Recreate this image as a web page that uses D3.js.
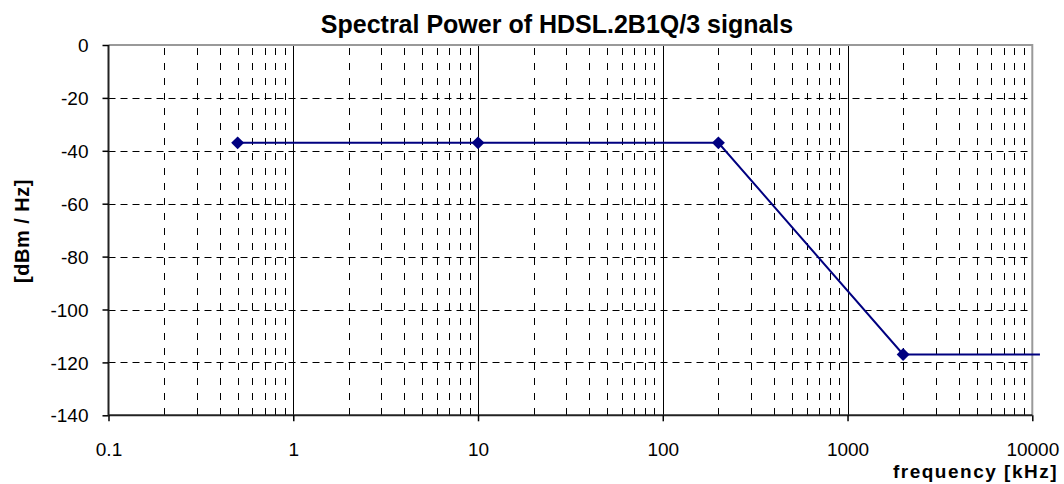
<!DOCTYPE html>
<html>
<head>
<meta charset="utf-8">
<script src="https://cdn.jsdelivr.net/npm/d3@7"></script>
<style>
  body { margin: 0; background: #fff; }
  text { font-family: Arial, "Liberation Sans", sans-serif; }
</style>
</head>
<body>
<svg id="chart"></svg>
<script>
// chart values
var freqKHz = [0.5, 10, 200, 2000, 11000];
var powerDbm = [-37, -37, -37, -117, -117];
var showMarker = [true, true, true, true, false];
var xTickValues = [0.1, 1, 10, 100, 1000, 10000];
var xTickLabels = ['0.1', '1', '10', '100', '1000', '10000'];
var yTickValues = [0, -20, -40, -60, -80, -100, -120, -140];

function drawChart(svgname) {

   var width = 1064,
       height = 484;

   var pLeft = 108.5, pRight = 1032.3, pTop = 45, pBottom = 415.3;

   var svg = d3.select('#' + svgname)
       .attr('width', width)
       .attr('height', height);

   var x = d3.scaleLog().domain([0.1, 10000]).range([pLeft, pRight]);
   var y = d3.scaleLinear().domain([-140, 0]).range([pBottom, pTop]);

   // minor log grid
   var minor = [];
   for (var e = -1; e < 4; e++) {
      for (var m = 2; m <= 9; m++) minor.push(m * Math.pow(10, e));
   }

   svg.append('g')
      .selectAll('line')
      .data(yTickValues.filter(function(d) { return d > -140 && d < 0; }))
      .enter().append('line')
      .attr('x1', pLeft).attr('x2', pRight)
      .attr('y1', function(d) { return Math.round(y(d)) + 0.5; })
      .attr('y2', function(d) { return Math.round(y(d)) + 0.5; })
      .attr('stroke', '#000').attr('stroke-width', 1)
      .attr('stroke-dasharray', '7,5');

   svg.append('g')
      .selectAll('line')
      .data(minor)
      .enter().append('line')
      .attr('x1', function(d) { return Math.round(x(d)) + 0.5; })
      .attr('x2', function(d) { return Math.round(x(d)) + 0.5; })
      .attr('y1', pTop + 3).attr('y2', pBottom)
      .attr('stroke', '#000').attr('stroke-width', 1)
      .attr('stroke-dasharray', '7,8');

   svg.append('g')
      .selectAll('line')
      .data([1, 10, 100, 1000])
      .enter().append('line')
      .attr('x1', function(d) { return Math.round(x(d)) + 0.5; })
      .attr('x2', function(d) { return Math.round(x(d)) + 0.5; })
      .attr('y1', pTop).attr('y2', pBottom)
      .attr('stroke', '#000').attr('stroke-width', 1);

   // plot border (top / right in grey)
   svg.append('path')
      .attr('d', 'M' + pLeft + ',' + pTop + 'H' + pRight + 'V' + pBottom)
      .attr('fill', 'none')
      .attr('stroke', '#999').attr('stroke-width', 2);

   // axes
   var yAxis = d3.axisLeft(y).tickValues(yTickValues).tickSize(6).tickPadding(14)
      .tickFormat(function(d) { return String(d); });
   var xAxis = d3.axisBottom(x).tickValues(xTickValues).tickSize(6).tickPadding(21)
      .tickFormat(function(d, i) { return xTickLabels[i]; });

   var gy = svg.append('g').attr('transform', 'translate(' + pLeft + ',0)').call(yAxis);
   var gx = svg.append('g').attr('transform', 'translate(0,' + pBottom + ')').call(xAxis);

   [gx, gy].forEach(function(g) {
      g.select('.domain').attr('stroke', '#222').attr('stroke-width', 2);
      g.selectAll('.tick line').attr('stroke', '#000').attr('stroke-width', 1.5);
      g.selectAll('.tick text')
        .attr('fill', '#000')
        .style('font-size', '19px');
   });
   gy.selectAll('.tick text').attr('dy', '0.35em');
   gx.select('.domain').attr('d', 'M' + pLeft + ',0H' + pRight);
   gy.select('.domain').attr('d', 'M0,' + pTop + 'V' + pBottom);

   // data line, runs a little past the right edge like the original
   svg.append('clipPath').attr('id', 'clip')
      .append('rect').attr('x', pLeft - 10).attr('y', 0)
      .attr('width', 1041 - pLeft + 10).attr('height', height);

   var line = d3.line()
      .x(function(d, i) { return x(freqKHz[i]); })
      .y(function(d, i) { return y(powerDbm[i]); });

   svg.append('path')
      .datum(freqKHz)
      .attr('d', line)
      .attr('clip-path', 'url(#clip)')
      .attr('fill', 'none')
      .attr('stroke', '#000080')
      .attr('stroke-width', 2);

   svg.append('g')
      .selectAll('path')
      .data(freqKHz.map(function(d, i) { return i; }).filter(function(i) { return showMarker[i]; }))
      .enter().append('path')
      .attr('d', d3.symbol().type(d3.symbolSquare).size(84))
      .attr('transform', function(i) {
         return 'translate(' + x(freqKHz[i]) + ',' + y(powerDbm[i]) + ') rotate(45)';
      })
      .attr('fill', '#000080');

   // titles
   svg.append('text')
      .attr('x', 557).attr('y', 33)
      .attr('text-anchor', 'middle')
      .style('font-weight', 'bold').style('font-size', '25px')
      .text('Spectral Power of HDSL.2B1Q/3 signals');

   svg.append('text')
      .attr('x', 1058).attr('y', 478)
      .attr('text-anchor', 'end')
      .style('font-weight', 'bold').style('font-size', '19px')
      .style('letter-spacing', '1.5px')
      .text('frequency [kHz]');

   svg.append('text')
      .attr('transform', 'translate(29,231) rotate(-90)')
      .attr('text-anchor', 'middle')
      .style('font-weight', 'bold').style('font-size', '20px')
      .style('letter-spacing', '0.5px')
      .text('[dBm / Hz]');
}

drawChart('chart');
</script>
</body>
</html>
